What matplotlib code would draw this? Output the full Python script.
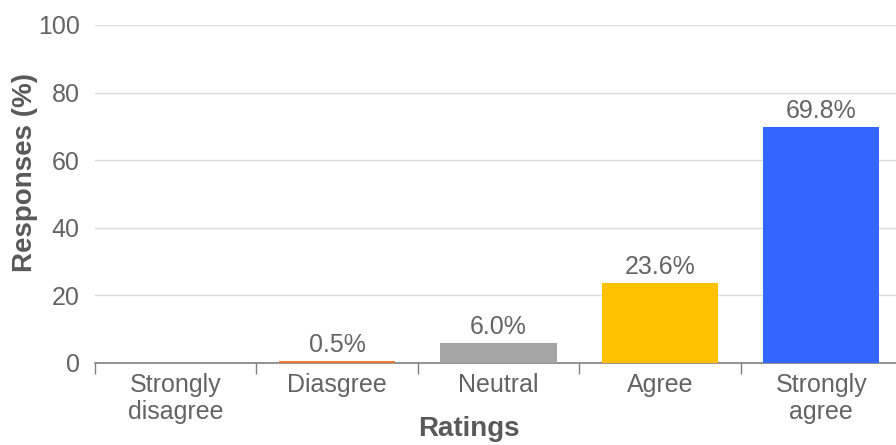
import matplotlib.pyplot as plt
import numpy as np

categories = ["Strongly\ndisagree", "Diasgree", "Neutral", "Agree", "Strongly\nagree"]
values = [0.0, 0.5, 6.0, 23.6, 69.8]
labels = ["", "0.5%", "6.0%", "23.6%", "69.8%"]
colors = ["#4472C4", "#ED7D31", "#A5A5A5", "#FFC000", "#3366FF"]
yticks = [0, 20, 40, 60, 80, 100]

plt.rcParams['font.family'] = ['Liberation Sans', 'DejaVu Sans']
txt = "#646464"

fig = plt.figure(figsize=(8.96, 4.45), dpi=100)
W, H = 896, 445
left, right, bottom, top = 95, 902, 363, 25
ax = fig.add_axes([left / W, (H - bottom) / H, (right - left) / W, (bottom - top) / H])

x = np.arange(len(categories))
bars = ax.bar(x, values, width=0.72, color=colors, zorder=3)
for b, lab in zip(bars, labels):
    if lab:
        ax.annotate(lab, (b.get_x() + b.get_width() / 2, b.get_height()),
                    xytext=(0, 3), textcoords="offset points",
                    ha="center", va="bottom", fontsize=18, color=txt)

ax.set_xlim(-0.5, len(categories) - 0.5)
ax.set_ylim(0, 100)
ax.set_yticks(yticks)
ax.set_yticklabels([str(v) for v in yticks])
ax.tick_params(axis="y", length=0, pad=11, labelsize=18, labelcolor=txt)
ax.grid(axis="y", color="#D9D9D9", linewidth=1, zorder=0)

ax.set_xticks(np.arange(len(categories) + 1) - 0.5)
ax.set_xticklabels([])
ax.tick_params(axis="x", which="major", length=8, color="#7F7F7F", width=1)
ax.set_xticks(x, minor=True)
ax.set_xticklabels(categories, minor=True)
ax.tick_params(axis="x", which="minor", length=0, pad=7, labelsize=18, labelcolor=txt)
for t in ax.get_xticklabels(minor=True):
    t.set_linespacing(1.15)

for s in ["top", "right", "left"]:
    ax.spines[s].set_visible(False)
ax.spines["bottom"].set_color("#7F7F7F")
ax.spines["bottom"].set_linewidth(1.2)
ax.spines["bottom"].set_zorder(2)

fig.text(469 / W, 1 - 429 / H, "Ratings", ha="center", va="center",
         fontsize=20, fontweight="bold", color="#595959")
fig.text(25 / W, 1 - 172 / H, "Responses (%)", ha="center", va="center",
         rotation=90, fontsize=20, fontweight="bold", color="#595959")

fig.savefig("out.png", dpi=100)
